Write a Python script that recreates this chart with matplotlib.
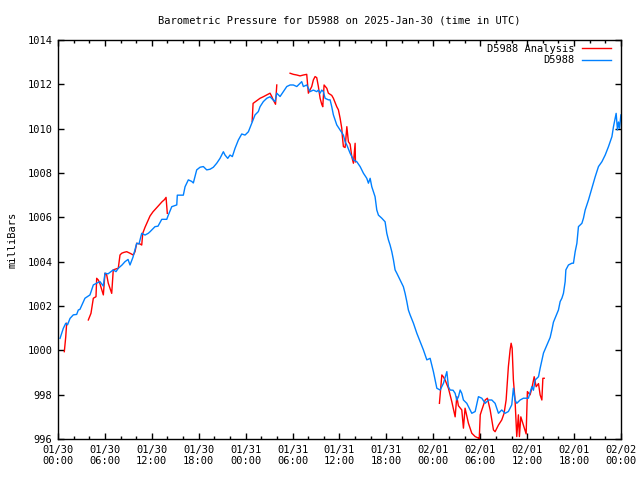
import numpy as np
import pandas as pd
import matplotlib
matplotlib.use("Agg")
import matplotlib.pyplot as plt
import matplotlib.dates as mdates

# hours after 2025-01-30 00:00 UTC
obs_hours = [0.26, 0.68, 0.99, 1.22, 1.54, 1.96, 2.39, 2.60, 2.81, 3.45, 4.09, 4.52, 4.95, 5.37,
             5.80, 6.01, 6.40, 7.07, 7.42, 7.71, 8.19, 8.57, 8.96, 9.21, 9.59, 10.07, 10.36,
             10.71, 11.13, 11.55, 11.77, 12.41, 12.79, 13.27, 13.91, 14.11, 14.55, 15.19, 15.26,
             15.83, 16.03, 16.25, 16.67, 17.10, 17.31, 17.74, 18.17, 18.59, 19.02, 19.45, 19.87,
             20.30, 20.72, 21.15, 21.36, 21.71, 22.00, 22.30, 22.64, 23.07, 23.50, 23.92, 24.35,
             24.78, 25.20, 25.62, 25.84, 26.26, 26.70, 27.12, 27.50, 27.76, 27.98, 28.40, 28.82,
             29.26, 29.68, 30.10, 30.54, 30.96, 31.17, 31.38, 31.81, 32.02, 32.23, 32.66, 33.09,
             33.30, 33.52, 33.73, 33.94, 34.16, 34.58, 34.80, 35.01, 35.22, 35.65, 36.08, 36.50,
             36.72, 36.94, 37.36, 37.78, 38.21, 38.64, 39.06, 39.49, 39.70, 39.92, 40.13, 40.55,
             40.77, 40.98, 41.41, 41.83, 42.05, 42.26, 42.47, 42.69, 42.90, 43.11, 43.33, 43.75,
             44.17, 44.39, 44.61, 44.81, 45.03, 45.46, 45.89, 46.31, 46.73, 47.17, 47.59, 48.01,
             48.45, 48.87, 49.29, 49.73, 49.93, 50.15, 50.53, 50.79, 51.00, 51.21, 51.43, 51.64,
             51.85, 52.28, 52.70, 52.92, 53.35, 53.77, 54.20, 54.63, 55.05, 55.48, 55.90, 56.33,
             56.75, 57.18, 57.60, 58.03, 58.24, 58.45, 58.67, 59.10, 59.52, 60.16, 60.60, 60.80,
             61.02, 61.45, 61.66, 62.09, 62.52, 62.94, 63.16, 63.36, 63.80, 64.00, 64.22, 64.44,
             64.64, 64.86, 64.95, 65.28, 65.72, 65.92, 66.14, 66.36, 66.56, 67.00, 67.20, 67.42,
             67.84, 68.28, 68.70, 69.12, 69.56, 69.98, 70.40, 70.84, 71.04, 71.26, 71.38, 71.55,
             71.68, 71.81, 71.99]
obs_mb = [1000.54, 1000.99, 1001.22, 1001.15, 1001.44, 1001.60, 1001.62, 1001.82, 1001.85, 1002.35,
          1002.50, 1002.95, 1003.03, 1003.10, 1002.90, 1003.48, 1003.45, 1003.63, 1003.55, 1003.70,
          1003.85, 1004.00, 1004.10, 1003.85, 1004.20, 1004.83, 1004.80, 1005.28, 1005.20, 1005.28,
          1005.35, 1005.58, 1005.60, 1005.91, 1005.91, 1006.10, 1006.48, 1006.56, 1007.00, 1007.00,
          1007.00, 1007.38, 1007.69, 1007.62, 1007.55, 1008.14, 1008.26, 1008.29, 1008.14, 1008.17,
          1008.26, 1008.44, 1008.66, 1008.96, 1008.81, 1008.66, 1008.81, 1008.74, 1009.11, 1009.49,
          1009.76, 1009.71, 1009.86, 1010.24, 1010.62, 1010.77, 1010.99, 1011.22, 1011.37, 1011.44,
          1011.30, 1011.22, 1011.60, 1011.45, 1011.67, 1011.90, 1011.97, 1011.97, 1011.90, 1012.05,
          1012.12, 1011.90, 1011.97, 1011.82, 1011.67, 1011.74, 1011.67, 1011.74, 1011.60, 1011.74,
          1011.67, 1011.37, 1011.30, 1011.30, 1010.99, 1010.62, 1010.17, 1009.94, 1009.71, 1009.41,
          1009.26, 1008.89, 1008.59, 1008.51, 1008.29, 1007.99, 1007.76, 1007.54, 1007.76, 1007.38,
          1006.93, 1006.33, 1006.10, 1005.96, 1005.80, 1005.28, 1004.98, 1004.75, 1004.45, 1004.08,
          1003.63, 1003.48, 1003.17, 1002.87, 1002.57, 1002.20, 1001.82, 1001.60, 1001.22, 1000.77,
          1000.39, 1000.02, 999.57, 999.64, 999.04, 998.29, 998.21, 998.51, 999.04, 998.36,
          998.21, 998.20, 998.06, 997.76, 997.90, 998.21, 998.06, 997.76, 997.61, 997.31,
          997.16, 997.24, 997.91, 997.84, 997.61, 997.76, 997.76, 997.61, 997.16, 997.31,
          997.16, 997.24, 997.54, 998.29, 997.76, 997.61, 997.76, 997.84, 997.84, 998.36,
          998.20, 998.66, 998.81, 999.19, 999.88, 1000.24, 1000.58, 1000.92, 1001.27, 1001.64,
          1001.82, 1002.20, 1002.35, 1002.57, 1003.10, 1003.63, 1003.85, 1003.93, 1003.93, 1004.45,
          1004.83, 1005.58, 1005.73, 1005.96, 1006.33, 1006.78, 1007.31, 1007.83, 1008.29, 1008.51,
          1008.81, 1009.19, 1009.64, 1010.09, 1010.47, 1010.69, 1009.94, 1010.30, 1010.02, 1010.62]

# analysis series, NaN marks gaps
ana_hours = [0.81, 0.99, 1.11, 1.5,
             3.88, 4.22, 4.52, 4.86, 4.95, 5.16, 5.37, 5.59, 5.80, 6.01, 6.23, 6.43, 6.65, 6.87,
             7.07, 7.48, 7.71, 7.93, 8.15, 8.44, 8.79, 9.21, 9.63, 9.85, 10.07, 10.49, 10.71,
             10.84, 11.13, 11.45, 11.77, 12.15, 12.54, 12.92, 13.30, 13.62, 13.82, 13.98, 14.2,
             24.83, 24.95, 25.37, 25.84, 26.26, 26.70, 27.12, 27.34, 27.54, 27.82, 27.98, 28.2,
             29.68, 30.10, 30.54, 30.96, 31.38, 31.81, 32.02, 32.23, 32.45, 32.66, 32.88, 33.09,
             33.30, 33.52, 33.73, 33.86, 34.03, 34.38, 34.58, 35.01, 35.22, 35.65, 35.86, 36.08,
             36.29, 36.37, 36.50, 36.72, 36.94, 37.14, 37.36, 37.57, 37.78, 38.00, 38.04, 38.3,
             48.78, 49.09, 49.29, 49.51, 49.93, 50.36, 50.79, 51.00, 51.21, 51.64, 51.85, 52.06,
             52.49, 52.92, 53.35, 53.77, 53.86, 54.00, 54.20, 54.63, 54.92, 55.27, 55.69, 55.90,
             56.33, 56.75, 57.05, 57.31, 57.60, 57.82, 57.95, 58.08, 58.24, 58.45, 58.67, 58.88,
             59.01, 59.19, 59.52, 59.87, 60.03, 60.37, 60.60, 60.90, 61.15, 61.45, 61.66, 61.88,
             62.01, 62.18]
ana_mb = [999.94, 1000.60, 1001.22, np.nan,
          1001.37, 1001.67, 1002.35, 1002.42, 1003.25, 1003.17, 1003.00, 1002.75, 1002.50, 1003.48,
          1003.40, 1003.03, 1002.80, 1002.57, 1003.63, 1003.68, 1003.70, 1004.30, 1004.38, 1004.42,
          1004.45, 1004.38, 1004.30, 1004.45, 1004.83, 1004.80, 1004.75, 1005.28, 1005.55, 1005.80,
          1006.06, 1006.25, 1006.40, 1006.55, 1006.70, 1006.80, 1006.90, 1006.18, np.nan,
          1010.32, 1011.14, 1011.25, 1011.37, 1011.44, 1011.52, 1011.60, 1011.45, 1011.29, 1011.10,
          1011.97, np.nan,
          1012.50, 1012.45, 1012.42, 1012.38, 1012.42, 1012.45, 1011.60, 1011.75, 1011.90, 1012.20,
          1012.35, 1012.30, 1011.90, 1011.37, 1011.10, 1010.99, 1011.97, 1011.82, 1011.60, 1011.50,
          1011.37, 1010.99, 1010.85, 1010.47, 1010.02, 1009.64, 1009.19, 1009.15, 1010.09, 1009.41,
          1009.30, 1008.74, 1008.44, 1009.34, 1008.50, np.nan,
          997.61, 998.89, 998.80, 998.66, 998.29, 997.69, 997.00, 997.91, 997.50, 997.31, 996.49,
          997.39, 996.71, 996.26, 996.11, 996.04, 995.90, 997.09, 997.31, 997.76, 997.84, 997.31,
          996.41, 996.33, 996.63, 996.86, 997.16, 997.76, 999.27, 1000.02, 1000.32, 1000.10, 998.66,
          997.76, 996.11, 997.09, 996.11, 997.00, 996.63, 996.23, 998.14, 997.99, 998.29, 998.81,
          998.36, 998.50, 997.99, 997.76, 998.74, 998.74]

y_ticks = np.arange(996, 1015, 2)

base = pd.Timestamp("2025-01-30 00:00")
obs_t = base + pd.to_timedelta(obs_hours, unit="h")
ana_t = base + pd.to_timedelta(ana_hours, unit="h")

plt.rcParams['font.family'] = ['DejaVu Sans Mono']
fig = plt.figure(figsize=(6.4, 4.8), dpi=100)
ax = fig.add_axes([0.0906, 0.0854, 0.8797, 0.8313])

ax.plot(ana_t, ana_mb, color="#ff0000", lw=1, label="D5988 Analysis")
ax.plot(obs_t, obs_mb, color="#0080ff", lw=1, label="D5988")

ax.set_xlim(base, base + pd.Timedelta(hours=72))
ax.set_ylim(996, 1014)
ax.set_yticks(y_ticks)
ax.set_yticklabels([str(v) for v in y_ticks])
ax.xaxis.set_major_locator(mdates.HourLocator(byhour=[0, 6, 12, 18]))
ax.xaxis.set_minor_locator(mdates.HourLocator(interval=2))
ax.xaxis.set_major_formatter(mdates.DateFormatter("%m/%d\n%H:%M"))

ax.tick_params(which="both", direction="in", top=True, right=True, labelsize=7.5, width=1, color="black")
ax.tick_params(which="major", length=4, pad=4)
ax.tick_params(which="minor", length=2.5)
for s in ax.spines.values():
    s.set_linewidth(1)

ax.set_ylabel("milliBars", fontsize=7.5, labelpad=7)
fig.text(0.53, 0.958, "Barometric Pressure for D5988 on 2025-Jan-30 (time in UTC)",
         ha="center", va="center", fontsize=7.5)

leg = ax.legend(loc="upper right", bbox_to_anchor=(1.0, 1.017), frameon=False, markerfirst=False,
                fontsize=7.5, handlelength=2.7, borderaxespad=0.6, labelspacing=0.15,
                handletextpad=0.8)
for t in leg.get_texts():
    t.set_ha("right")

fig.savefig("out.png", dpi=100)
